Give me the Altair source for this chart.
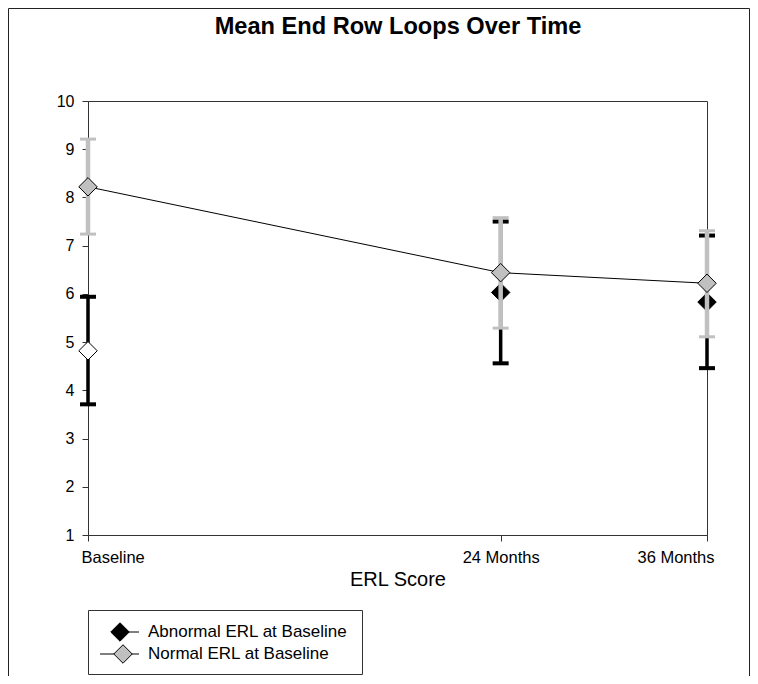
import altair as alt
import pandas as pd

# ---- data ----
months = [0, 24, 36]
month_labels = ["Baseline", "24 Months", "36 Months"]
normal_mean = [8.22, 6.44, 6.22]
normal_lo = [7.24, 5.29, 5.11]
normal_hi = [9.21, 7.58, 7.31]
abnormal_mean = [4.82, 6.03, 5.83]
abnormal_lo = [3.71, 4.56, 4.46]
abnormal_hi = [5.94, 7.50, 7.21]
abnormal_filled = [False, True, True]
series_names = ["Abnormal ERL at Baseline", "Normal ERL at Baseline"]
chart_title = "Mean End Row Loops Over Time"
y_ticks = list(range(1, 11))

FONT = "Liberation Sans"
GRAY = "#C0C0C0"

normal = pd.DataFrame({"month": months, "mean": normal_mean, "lo": normal_lo, "hi": normal_hi})
abnormal = pd.DataFrame({"month": months, "mean": abnormal_mean, "lo": abnormal_lo,
                         "hi": abnormal_hi, "filled": abnormal_filled})

label_expr = " : ".join(f"datum.value == {m} ? '{l}'" for m, l in zip(months[:-1], month_labels[:-1])) \
    + f" : '{month_labels[-1]}'"

xscale = alt.Scale(domain=[0, 36], nice=False, zero=False)
yscale = alt.Scale(domain=[1, 10], nice=False, zero=False)

x_axis = alt.Axis(values=months, labelExpr=label_expr, title="ERL Score", tickSize=6,
                  labelPadding=8, labelFontSize=16.5, labelFlush=True, labelFlushOffset=7,
                  titleFontSize=20, titleFontWeight="normal", titlePadding=4)
y_axis = alt.Axis(values=y_ticks, title=None, tickSize=6, labelPadding=8, labelFontSize=16)

X = alt.X("month:Q", scale=xscale, axis=x_axis)
Xn = alt.X("month:Q", scale=xscale)

one = pd.DataFrame({"k": [0]})

# outer figure border
border = alt.Chart(one).mark_rect(fill="transparent", stroke="#222", strokeWidth=1).encode(
    x=alt.value(-79.5), x2=alt.value(661.5), y=alt.value(-92.5), y2=alt.value(700))

title_txt = alt.Chart(pd.DataFrame({"t": [chart_title]})).mark_text(
    align="center", baseline="alphabetic", fontSize=23.6, font=FONT, fontWeight="bold",
    color="black").encode(text="t:N", x=alt.value(310), y=alt.value(-67))

ab_rule = alt.Chart(abnormal).mark_rule(color="black", strokeWidth=3.5).encode(
    x=X, y=alt.Y("lo:Q", scale=yscale, axis=y_axis), y2="hi:Q")
ab_caps = alt.Chart(abnormal).transform_fold(["lo", "hi"], as_=["end", "val"]).mark_tick(
    orient="horizontal", color="black", size=16, thickness=4, opacity=1).encode(
    x=Xn, y=alt.Y("val:Q", scale=yscale))
ab_pts = alt.Chart(abnormal).mark_point(shape="diamond", size=340, filled=True, stroke="black",
                                        strokeWidth=1, opacity=1).encode(
    x=Xn, y=alt.Y("mean:Q", scale=yscale),
    fill=alt.condition("datum.filled", alt.value("black"), alt.value("white")))

no_rule = alt.Chart(normal).mark_rule(color=GRAY, strokeWidth=4.5).encode(
    x=Xn, y=alt.Y("lo:Q", scale=yscale), y2="hi:Q")
no_caps = alt.Chart(normal).transform_fold(["lo", "hi"], as_=["end", "val"]).mark_tick(
    orient="horizontal", color=GRAY, size=16, thickness=3, opacity=1).encode(
    x=Xn, y=alt.Y("val:Q", scale=yscale))
no_line = alt.Chart(normal).mark_line(color="black", strokeWidth=1).encode(
    x=Xn, y=alt.Y("mean:Q", scale=yscale))
no_pts = alt.Chart(normal).mark_point(shape="diamond", size=340, filled=True, fill=GRAY,
                                      stroke="black", strokeWidth=1, opacity=1).encode(
    x=Xn, y=alt.Y("mean:Q", scale=yscale))

# legend (drawn by hand)
L1, L2 = 531, 553
leg_box = alt.Chart(one).mark_rect(fill="white", stroke="#333", strokeWidth=1).encode(
    x=alt.value(0.5), x2=alt.value(274.5), y=alt.value(509.5), y2=alt.value(573.5))
leg_line1 = alt.Chart(one).mark_rule(color="black", strokeWidth=1).encode(
    x=alt.value(32), x2=alt.value(51), y=alt.value(L1))
leg_line2 = alt.Chart(one).mark_rule(color="black", strokeWidth=1).encode(
    x=alt.value(12), x2=alt.value(51), y=alt.value(L2))
leg_sym1 = alt.Chart(one).mark_point(shape="diamond", size=340, filled=True, fill="black",
                                     stroke="black", strokeWidth=1, opacity=1).encode(
    x=alt.value(32), y=alt.value(L1))
leg_sym2 = alt.Chart(one).mark_point(shape="diamond", size=340, filled=True, fill=GRAY,
                                     stroke="black", strokeWidth=1, opacity=1).encode(
    x=alt.value(35), y=alt.value(L2))
leg_txt1 = alt.Chart(pd.DataFrame({"label": [series_names[0]]})).mark_text(
    align="left", baseline="middle", fontSize=17, font=FONT, color="black").encode(
    text="label:N", x=alt.value(60), y=alt.value(L1))
leg_txt2 = alt.Chart(pd.DataFrame({"label": [series_names[1]]})).mark_text(
    align="left", baseline="middle", fontSize=17, font=FONT, color="black").encode(
    text="label:N", x=alt.value(60), y=alt.value(L2))

chart = alt.layer(
    border, title_txt, ab_rule, ab_caps, ab_pts, no_rule, no_caps, no_line, no_pts,
    leg_box, leg_line1, leg_line2, leg_sym1, leg_sym2, leg_txt1, leg_txt2
).properties(
    width=619, height=434,
    autosize=alt.AutoSizeParams(type="none"),
    padding={"left": 80, "top": 93, "right": 43, "bottom": 141},
    background="white",
).configure_view(stroke="#333", strokeWidth=1).configure_axis(
    domainColor="#333", tickColor="#333", labelColor="black", titleColor="black",
    labelFont=FONT, titleFont=FONT, grid=False, domainWidth=1, tickWidth=1
)

chart.save("out.html", embed_options={"renderer": "svg", "actions": False})
